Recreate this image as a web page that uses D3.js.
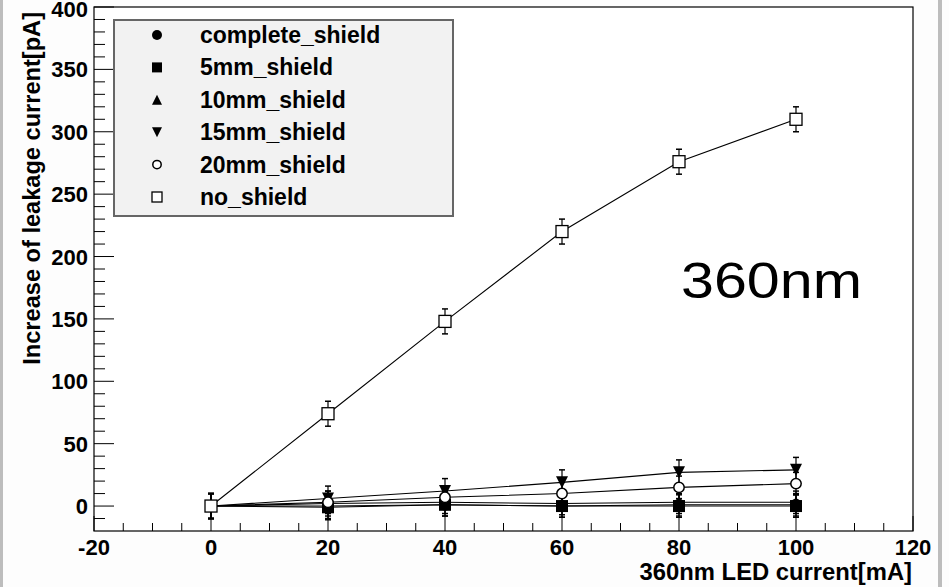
<!DOCTYPE html>
<html>
<head>
<meta charset="utf-8">
<script src="https://cdn.jsdelivr.net/npm/d3@7"></script>
<style>
  body { margin: 0; background: #fdfdfd; }
  svg { display: block; }
  text { font-family: "Liberation Sans", Arial, Helvetica, sans-serif; }
</style>
</head>
<body>
<svg width="949" height="587"></svg>
<script>
// LED current [mA]
var currents = [0, 20, 40, 60, 80, 100];

// increase of leakage current [pA], one array per shield
var completeShield = [0, 0, 1, 0, 1, 1];
var shield5mm = [0, -1, 1, 0, 0, 0];
var shield10mm = [0, 2, 3, 2, 3, 3];
var shield15mm = [0, 6, 12, 19, 27, 29];
var shield20mm = [0, 3, 7, 10, 15, 18];
var noShield = [0, 74, 148, 220, 276, 310];

// error bars (+/-)
var errComplete = [10, 10, 9, 9, 9, 9];
var err5mm = [10, 10, 9, 9, 9, 9];
var err10mm = [10, 10, 9, 9, 9, 9];
var err15mm = [10, 10, 10, 10, 10, 10];
var err20mm = [10, 9, 9, 9, 9, 9];
var errNoShield = [10, 10, 10, 10, 10, 10];

var seriesNames = ["complete_shield", "5mm_shield", "10mm_shield", "15mm_shield", "20mm_shield", "no_shield"];
var seriesMarkers = ["circle", "square", "triangle", "triangleDown", "openCircle", "openSquare"];

var xTicks = [-20, 0, 20, 40, 60, 80, 100, 120];
var yTicks = [0, 50, 100, 150, 200, 250, 300, 350, 400];

var series = [
  { name: seriesNames[0], marker: seriesMarkers[0], y: completeShield, err: errComplete },
  { name: seriesNames[1], marker: seriesMarkers[1], y: shield5mm, err: err5mm },
  { name: seriesNames[2], marker: seriesMarkers[2], y: shield10mm, err: err10mm },
  { name: seriesNames[3], marker: seriesMarkers[3], y: shield15mm, err: err15mm },
  { name: seriesNames[4], marker: seriesMarkers[4], y: shield20mm, err: err20mm },
  { name: seriesNames[5], marker: seriesMarkers[5], y: noShield, err: errNoShield }
];

var svg = d3.select("svg");

// screenshot border strips
svg.append("rect").attr("x", 0).attr("y", 0).attr("width", 3).attr("height", 587).attr("fill", "#bdbdbd");
svg.append("rect").attr("x", 938).attr("y", 0).attr("width", 4).attr("height", 587).attr("fill", "#bdbdbd");

var x = d3.scaleLinear().domain([-20, 120]).range([94, 913]);
var y = d3.scaleLinear().domain([-20, 400]).range([531, 7]);

// frame
svg.append("rect")
  .attr("x", x(-20)).attr("y", y(400))
  .attr("width", x(120) - x(-20)).attr("height", y(-20) - y(400))
  .attr("fill", "#ffffff").attr("stroke", "#000").attr("stroke-width", 1.2);

const g = svg.append("g");

// x axis ticks, drawn inward like ROOT
var xMinor = d3.range(-20, 120.1, 5);
g.selectAll(".xtick").data(xMinor).enter()
  .append("line")
    .attr("x1", d => x(d)).attr("x2", d => x(d))
    .attr("y1", y(-20))
    .attr("y2", d => y(-20) - (d % 20 === 0 ? 15 : 8))
    .attr("stroke", "#000").attr("stroke-width", 1);

g.selectAll(".xlabel").data(xTicks).enter()
  .append("text")
    .attr("x", d => x(d)).attr("y", 555)
    .attr("text-anchor", "middle")
    .attr("font-size", 22).attr("font-weight", "bold")
    .text(d => d);

// y axis ticks
var yMinor = d3.range(-10, 400.1, 10);
g.selectAll(".ytick").data(yMinor).enter()
  .append("line")
    .attr("x1", x(-20))
    .attr("x2", d => x(-20) + (d % 50 === 0 ? 20 : 11))
    .attr("y1", d => y(d)).attr("y2", d => y(d))
    .attr("stroke", "#000").attr("stroke-width", 1);

g.selectAll(".ylabel").data(yTicks).enter()
  .append("text")
    .attr("x", 88).attr("y", d => Math.max(y(d) + 8, 17))
    .attr("text-anchor", "end")
    .attr("font-size", 22).attr("font-weight", "bold")
    .text(d => d);

// axis titles
svg.append("text")
  .attr("x", 912).attr("y", 580)
  .attr("text-anchor", "end")
  .attr("font-size", 23.8).attr("font-weight", "bold")
  .text("360nm LED current[mA]");

svg.append("text")
  .attr("transform", "translate(40,12) rotate(-90)")
  .attr("text-anchor", "end")
  .attr("font-size", 23.6).attr("font-weight", "bold")
  .text("Increase of leakage current[pA]");

// marker drawing
function drawMarker(sel, type, size) {
  var h = size / 2;
  if (type === "circle" || type === "openCircle") {
    sel.append("circle").attr("r", h - (type === "openCircle" ? 0.8 : 0))
      .attr("fill", type === "circle" ? "#000" : "#fff")
      .attr("stroke", "#000").attr("stroke-width", type === "circle" ? 0 : 1.5);
  } else if (type === "square" || type === "openSquare") {
    sel.append("rect").attr("x", -h).attr("y", -h).attr("width", size).attr("height", size)
      .attr("fill", type === "square" ? "#000" : "#fff")
      .attr("stroke", "#000").attr("stroke-width", type === "square" ? 0 : 1.3);
  } else if (type === "triangle") {
    sel.append("path").attr("d", "M0," + (-h) + "L" + h + "," + h + "L" + (-h) + "," + h + "Z").attr("fill", "#000");
  } else if (type === "triangleDown") {
    sel.append("path").attr("d", "M0," + h + "L" + h + "," + (-h) + "L" + (-h) + "," + (-h) + "Z").attr("fill", "#000");
  }
}

var line = d3.line().x(d => x(d[0])).y(d => y(d[1]));

series.forEach(function (s) {
  var pts = currents.map((c, i) => [c, s.y[i], s.err[i]]);
  var sg = g.append("g").attr("class", "series");

  sg.append("path")
    .attr("d", line(pts))
    .attr("fill", "none").attr("stroke", "#000").attr("stroke-width", 1.1);

  // error bars with small caps
  var eb = sg.selectAll(".err").data(pts).enter().append("g");
  eb.append("line")
    .attr("x1", d => x(d[0])).attr("x2", d => x(d[0]))
    .attr("y1", d => y(d[1] - d[2])).attr("y2", d => y(d[1] + d[2]))
    .attr("stroke", "#000").attr("stroke-width", 1.2);
  eb.append("line")
    .attr("x1", d => x(d[0]) - 3).attr("x2", d => x(d[0]) + 3)
    .attr("y1", d => y(d[1] + d[2])).attr("y2", d => y(d[1] + d[2]))
    .attr("stroke", "#000").attr("stroke-width", 1.5);
  eb.append("line")
    .attr("x1", d => x(d[0]) - 3).attr("x2", d => x(d[0]) + 3)
    .attr("y1", d => y(d[1] - d[2])).attr("y2", d => y(d[1] - d[2]))
    .attr("stroke", "#000").attr("stroke-width", 1.5);

  sg.selectAll(".pt").data(pts).enter()
    .append("g")
      .attr("transform", d => "translate(" + x(d[0]) + "," + y(d[1]) + ")")
      .each(function () { drawMarker(d3.select(this), s.marker, 12); });
});

// legend
var legend = svg.append("g");
legend.append("rect")
  .attr("x", 114).attr("y", 20).attr("width", 339).attr("height", 196)
  .attr("fill", "#f2f2f2").attr("stroke", "#666").attr("stroke-width", 2);

var rows = legend.selectAll(".row").data(series).enter()
  .append("g")
    .attr("transform", (d, i) => "translate(157," + (35 + i * 32.4) + ")");
rows.each(function (d) { drawMarker(d3.select(this), d.marker, 10); });
rows.append("text")
  .attr("x", 43).attr("y", 8)
  .attr("font-size", 23).attr("font-weight", "bold")
  .text(d => d.name);

// wavelength annotation
svg.append("text")
  .attr("x", 681).attr("y", 298)
  .attr("font-family", "Lato, 'Noto Sans', sans-serif")
  .attr("font-size", 50)
  .attr("textLength", 181).attr("lengthAdjust", "spacingAndGlyphs")
  .text("360nm");
</script>
</body>
</html>
